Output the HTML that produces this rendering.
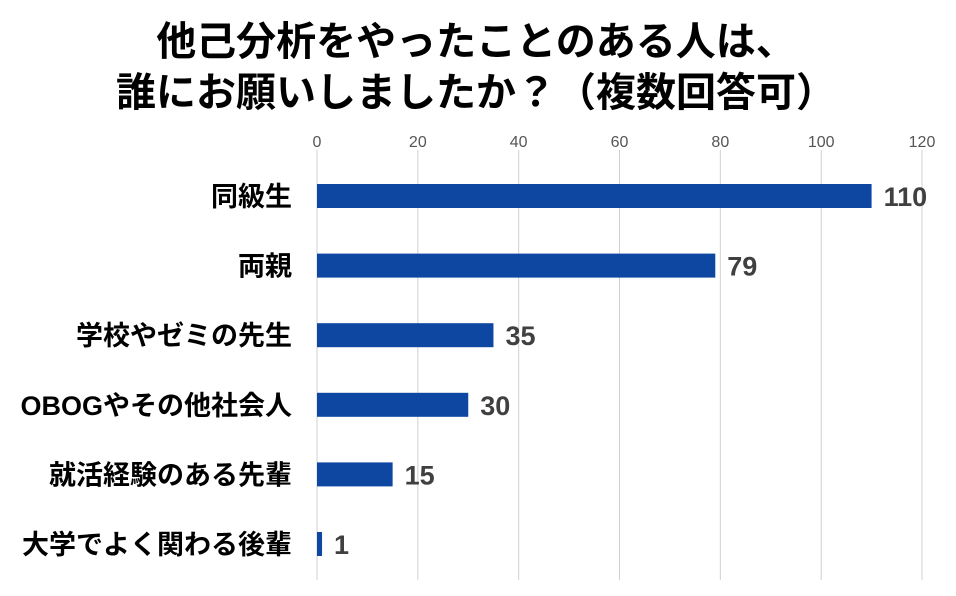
<!DOCTYPE html>
<html><head><meta charset="utf-8"><style>
body{margin:0;background:#fff;width:956px;height:596px;overflow:hidden}
svg{display:block}
</style></head><body>
<svg id="chart" width="956" height="596" xmlns="http://www.w3.org/2000/svg" font-family="'Liberation Sans','Noto Sans CJK JP',sans-serif">
<text x="476" y="55" text-anchor="middle" font-size="40" font-weight="bold" fill="#000">他己分析をやったことのある人は、</text>
<text x="476" y="106" text-anchor="middle" font-size="40" font-weight="bold" fill="#000">誰にお願いしましたか？（複数回答可）</text>
<g id="grid"></g><g id="bars"></g>
</svg>
<script>
const categories=["同級生","両親","学校やゼミの先生","OBOGやその他社会人","就活経験のある先輩","大学でよく関わる後輩"];
const values=[110,79,35,30,15,1];
const ticks=[0,20,40,60,80,100,120];
const NS="http://www.w3.org/2000/svg";
const x0=317,x1=922,maxV=120,yTop=150,yBot=580,firstY=196,step=69.6,bh=24;
const xs=v=>x0+(v/maxV)*(x1-x0);
const grid=document.getElementById('grid'),bars=document.getElementById('bars');
function mk(t,a,p){const e=document.createElementNS(NS,t);for(const k in a)e.setAttribute(k,a[k]);p.appendChild(e);return e;}
ticks.forEach(t=>{
 const l=mk('line',{x1:xs(t),x2:xs(t),y1:yTop,y2:yBot,stroke:'#d0d0d0','stroke-width':1},grid);
 
 
 const tx=mk('text',{x:xs(t),y:147,'text-anchor':'middle','font-size':16,fill:'#555'},grid);
 tx.textContent=t;
 
 
});
categories.forEach((c,i)=>{
 const cy=firstY+i*step;
 const lb=mk('text',{x:292,y:cy+10,'text-anchor':'end','font-size':27,'font-weight':'bold',fill:'#000'},bars);
 lb.textContent=c;
 
 
 const r=mk('rect',{x:x0,y:cy-bh/2,width:xs(values[i])-x0,height:bh,fill:'#0D47A1'},bars);
 
 
 const vl=mk('text',{x:xs(values[i])+12,y:cy+10,'font-size':27,'font-weight':'bold',fill:'#404040'},bars);
 vl.textContent=values[i];
 
 
});
</script>
</body></html>
